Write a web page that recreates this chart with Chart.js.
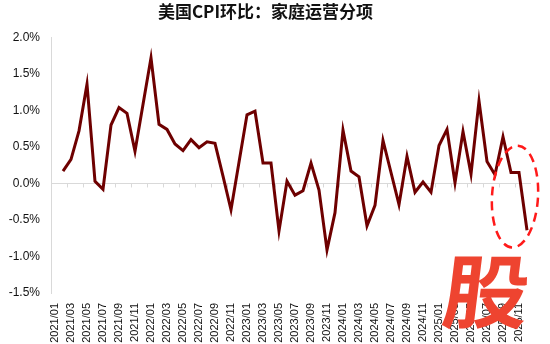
<!DOCTYPE html>
<html>
<head>
<meta charset="utf-8">
<script src="https://cdn.jsdelivr.net/npm/chart.js@4.4.1/dist/chart.umd.min.js"></script>
<style>
  html, body { margin: 0; padding: 0; background: #fff; }
  #wrap { width: 550px; height: 344px; }
</style>
</head>
<body>
<div id="wrap"><canvas id="cpi" width="550" height="344"></canvas></div>
<script>
// monthly categories 2021/01 .. 2025/12
const months = [];
for (let y = 2021; y <= 2025; y++) {
  for (let m = 1; m <= 12; m++) months.push(`${y}/${String(m).padStart(2, '0')}`);
}

// CPI household operations, MoM %
const mom2021 = [null, 0.17, 0.33, 0.72, 1.36, 0.03, -0.08, 0.80, 1.04, 0.96, 0.44, 1.08];
const mom2022 = [1.72, 0.81, 0.74, 0.54, 0.45, 0.60, 0.49, 0.57, 0.55, 0.10, -0.36, 0.29];
const mom2023 = [0.94, 0.99, 0.28, 0.28, -0.65, 0.03, -0.16, -0.10, 0.28, -0.09, -0.91, -0.40];
const mom2024 = [0.73, 0.17, 0.09, -0.58, -0.30, 0.59, 0.15, -0.29, 0.37, -0.12, 0.02, -0.12];
const mom2025 = [0.52, 0.74, 0.01, 0.71, 0.13, 1.13, 0.30, 0.12, 0.64, 0.15, 0.15, -0.64];
const momValues = [...mom2021, ...mom2022, ...mom2023, ...mom2024, ...mom2025];

const yTicks = [-1.5, -1.0, -0.5, 0, 0.5, 1.0, 1.5, 2.0];

const LINE = '#6e0000';
const AXIS = '#d9d9d9';

// short tick marks under the zero line, every two months
const zeroTicks = {
  id: 'zeroTicks',
  beforeDatasetsDraw(chart) {
    const { ctx, scales: { x, y } } = chart;
    const y0 = y.getPixelForValue(0);
    ctx.save();
    ctx.strokeStyle = AXIS;
    ctx.lineWidth = 1;
    ctx.beginPath();
    for (let i = 1; i < months.length - 1; i += 2) {
      const px = Math.round((x.getPixelForValue(i) + x.getPixelForValue(i + 1)) / 2) + 0.5;
      ctx.moveTo(px, y0);
      ctx.lineTo(px, y0 + 4);
    }
    ctx.stroke();
    ctx.restore();
  },
};

// dashed highlight around the latest months + watermark
const overlay = {
  id: 'overlay',
  afterDraw(chart) {
    const { ctx, scales: { x, y } } = chart;
    const cx = x.getPixelForValue(57.5);
    const cy = y.getPixelForValue(-0.18);
    ctx.save();
    ctx.strokeStyle = '#ff1a1a';
    ctx.lineWidth = 2.5;
    ctx.setLineDash([9, 6]);
    ctx.beginPath();
    ctx.ellipse(cx, cy, 23, 51, 0.06, 0, Math.PI * 2);
    ctx.stroke();
    ctx.restore();

    ctx.save();
    ctx.fillStyle = '#ee4430';
    ctx.font = 'bold 82px "Noto Sans CJK SC"';
    ctx.textBaseline = 'top';
    ctx.translate(440, 251);
    ctx.transform(1.05, 0, -0.12, 0.98, 0, 0);
    ctx.fillText('股', 8, 0);
    ctx.restore();
  },
};

new Chart(document.getElementById('cpi'), {
  type: 'line',
  data: {
    labels: months,
    datasets: [{
      data: momValues,
      borderColor: LINE,
      borderWidth: 3,
      pointRadius: 0,
      tension: 0,
      fill: false,
    }],
  },
  options: {
    responsive: false,
    animation: false,
    layout: { padding: { left: 0, right: 19, top: 0, bottom: 0 } },
    plugins: {
      legend: { display: false },
      tooltip: { enabled: false },
      title: {
        display: true,
        text: '美国CPI环比：家庭运营分项',
        color: '#111',
        font: { family: '"Noto Sans CJK SC", sans-serif', size: 17, weight: 'bold' },
        padding: { top: 1, bottom: 16 },
      },
    },
    scales: {
      x: {
        type: 'category',
        offset: true,
        grid: { display: false },
        border: { display: false },
        ticks: {
          autoSkip: false,
          maxRotation: 90,
          minRotation: 90,
          padding: 2,
          color: '#111',
          font: { family: '"Liberation Sans", Arial, sans-serif', size: 11 },
          callback: (v, i) => (i % 2 === 0 ? months[i] : ''),
        },
        afterFit: (s) => { s.height = 51; },
      },
      y: {
        min: -1.5,
        max: 2.0,
        afterBuildTicks: (s) => { s.ticks = yTicks.map(v => ({ value: v })); },
        grid: {
          drawTicks: false,
          color: (c) => (c.tick && c.tick.value === 0 ? AXIS : 'transparent'),
          lineWidth: 1,
        },
        border: { display: true, color: AXIS, width: 1 },
        ticks: {
          padding: 11,
          color: '#111',
          font: { family: '"Liberation Sans", Arial, sans-serif', size: 12 },
          callback: (v) => v.toFixed(1) + '%',
        },
        afterFit: (s) => { s.width = 51; },
      },
    },
  },
  plugins: [zeroTicks, overlay],
});
</script>
</body>
</html>
